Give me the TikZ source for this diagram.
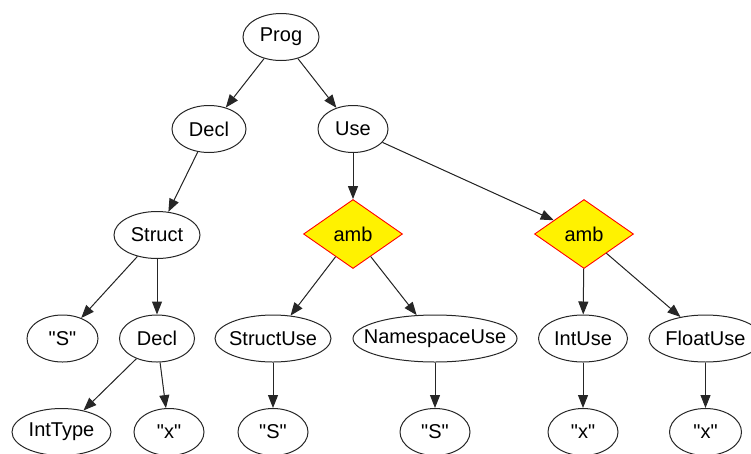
\documentclass[tikz,border=0pt]{standalone}
\usepackage{fontspec}
\setmainfont{Liberation Sans}[Ligatures=TeXOff]
\usetikzlibrary{shapes.geometric,arrows.meta}
\newcommand\tx[1]{\makebox[0pt]{#1}}
\begin{document}
\begin{tikzpicture}[x=1pt,y=-1pt,
  el/.style={ellipse, draw=black!85, line width=1pt, minimum height=47pt, inner sep=0pt,
    font=\fontsize{20}{20}\selectfont},
  ambnode/.style={diamond, draw=red, fill=yellow, line width=0.9pt, minimum width=99pt,
    minimum height=69pt, inner sep=0pt, font=\fontsize{20}{20}\selectfont},
  arr/.style={-{Triangle[length=13pt,width=10pt]}, line width=1pt, draw=black!85, fill=black!85}]
\useasboundingbox (0,0) rectangle (751,453);
% rows 1-3
\node[el, minimum width=76pt] (prog) at (281,37) {\tx{Prog}};
\node[el, minimum width=74pt] (decl1) at (209,129) {\tx{Decl}};
\node[el, minimum width=70pt] (use) at (353,129) {\tx{Use}};
\node[el, minimum width=86pt] (struct) at (157,235) {\tx{Struct}};
\node[ambnode] (amb1) at (353,234) {amb};
\node[ambnode] (amb2) at (584,234) {amb};
% row 4
\node[el, minimum width=71pt] (s1) at (62.5,338.5) {\tx{"S"}};
\node[el, minimum width=75pt] (decl2) at (157,338.5) {\tx{Decl}};
\node[el, minimum width=116pt] (structuse) at (273,338.5) {\tx{StructUse}};
\node[el, minimum width=164pt] (nsuse) at (435,338.5) {\tx{NamespaceUse}};
\node[el, minimum width=89pt] (intuse) at (583,338.5) {\tx{IntUse}};
\node[el, minimum width=113pt] (floatuse) at (705.5,338.5) {\tx{FloatUse}};
% row 5
\node[el, minimum width=99pt] (inttype) at (61.5,432) {\tx{IntType}};
\node[el, minimum width=70pt] (x1) at (169,432) {\tx{"x"}};
\node[el, minimum width=70pt] (s2) at (273,432) {\tx{"S"}};
\node[el, minimum width=70pt] (s3) at (435,432) {\tx{"S"}};
\node[el, minimum width=70pt] (x3) at (583,432) {\tx{"x"}};
\node[el, minimum width=72pt] (x4) at (705.5,432) {\tx{"x"}};
% edges
\draw[arr] (prog) -- (decl1);
\draw[arr] (prog) -- (use);
\draw[arr] (decl1) -- (struct);
\draw[arr] (use) -- (amb1);
\draw[arr] (use) -- (amb2);
\draw[arr] (struct) -- (s1);
\draw[arr] (struct) -- (decl2);
\draw[arr] (decl2) -- (inttype);
\draw[arr] (decl2) -- (x1);
\draw[arr] (amb1) -- (structuse);
\draw[arr] (amb1) -- (nsuse);
\draw[arr] (amb2) -- (intuse);
\draw[arr] (amb2) -- (floatuse);
\draw[arr] (structuse) -- (s2);
\draw[arr] (nsuse) -- (s3);
\draw[arr] (intuse) -- (x3);
\draw[arr] (floatuse) -- (x4);
\end{tikzpicture}
\end{document}
